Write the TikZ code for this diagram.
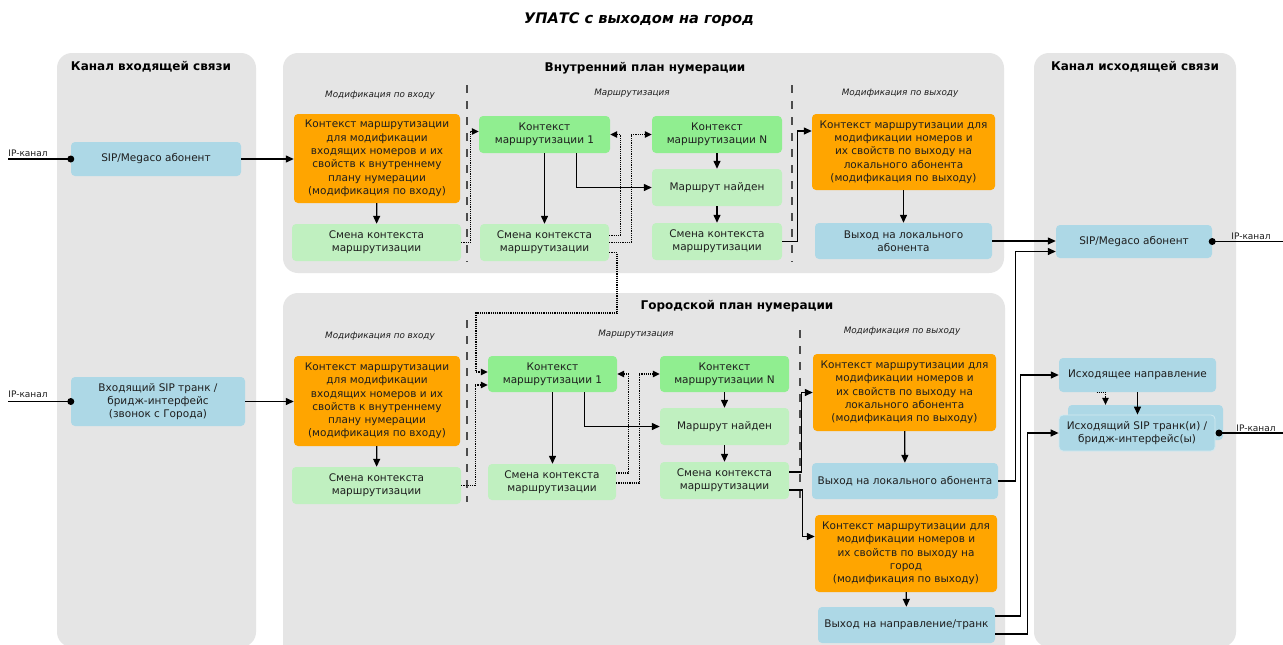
\documentclass[tikz,border=0pt]{standalone}
\usepackage{fontspec}
\setmainfont{DejaVu Sans}
\usetikzlibrary{arrows.meta}
\definecolor{panelgray}{HTML}{E5E5E5}
\definecolor{ctxorange}{HTML}{FFA500}
\definecolor{ctxgreen}{HTML}{90EE90}
\definecolor{stepgreen}{HTML}{C0F0C0}
\definecolor{chanblue}{HTML}{ADD8E6}
\definecolor{inktext}{HTML}{1E1E1E}
\begin{document}
\begin{tikzpicture}[x=1pt,y=-1pt,
		panel/.style={fill=panelgray,rounded corners=15pt},
		ptitle/.style={font=\fontsize{12}{14}\selectfont\bfseries,text=black},
		zone/.style={font=\fontsize{8.8}{10}\selectfont\itshape,text=inktext},
		box/.style={rounded corners=4pt,align=center,inner sep=0pt,text=inktext,
			font=\fontsize{10.5}{13.3}\selectfont},
		orbox/.style={box,fill=ctxorange},
		ctxbox/.style={box,fill=ctxgreen},
		stepbox/.style={box,fill=stepgreen},
		chbox/.style={box,fill=chanblue},
		wire/.style={line width=1.3pt,black},
		arr/.style={wire,-{Triangle[length=8pt,width=7pt]}},
		dotarr/.style={line width=1.2pt,densely dotted,black,-{Triangle[length=7pt,width=6.5pt]}},
		sep/.style={line width=1.2pt,black!70,dash pattern=on 8pt off 8pt},
		iplab/.style={font=\fontsize{9}{10}\selectfont,text=inktext}]
	\useasboundingbox (0,0) rectangle (1283,645);
	\fill[white] (0,0) rectangle (1283,645);

	\fill[panel] (57,53) rectangle (256,647);
	\fill[panel] (283,53) rectangle (1004,273);
	\fill[panel] (283,293) rectangle (1005,660);
	\fill[panel] (1034,53) rectangle (1236,647);

	\node[font=\fontsize{14.6}{16}\selectfont\bfseries\itshape] (title) at (639,20) {УПАТС с выходом на город};
	\node[ptitle] (inTitle) at (151,67) {Канал входящей связи};
	\node[ptitle] (intTitle) at (645,68) {Внутренний план нумерации};
	\node[ptitle] (cityTitle) at (737,306) {Городской план нумерации};
	\node[ptitle] (outTitle) at (1135,67) {Канал исходящей связи};

	\node[zone] (zIA) at (380,95) {Модификация по входу};
	\node[zone] (zIR) at (632,93) {Маршрутизация};
	\node[zone] (zIO) at (900,93) {Модификация по выходу};
	\node[zone] (zCA) at (380,336) {Модификация по входу};
	\node[zone] (zCR) at (636,334) {Маршрутизация};
	\node[zone] (zCO) at (902,331) {Модификация по выходу};

	\draw[sep] (467,85) -- (467,262);
	\draw[sep] (792,85) -- (792,262);
	\draw[sep] (467,320) -- (467,502);
	\draw[sep] (800,330) -- (800,505);

	% incoming channel
	\node[chbox,minimum width=170pt,minimum height=34pt] (sipIn) at (156,159) {SIP/Megaco абонент};
	\node[chbox,minimum width=174pt,minimum height=49pt] (trunkIn) at (158,401.5) {Входящий SIP транк /\\бридж-интерфейс\\(звонок с Города)};

	% internal plan
	\node[orbox,minimum width=166pt,minimum height=89pt] (orIA) at (377,158.5) {Контекст маршрутизации\\для модификации\\входящих номеров и их\\свойств к внутреннему\\плану нумерации\\(модификация по входу)};
	\node[stepbox,minimum width=169pt,minimum height=37pt] (smIA) at (376.5,242.5) {Смена контекста\\маршрутизации};
	\node[ctxbox,minimum width=131pt,minimum height=37pt] (ctxIA) at (544.5,134.5) {Контекст\\маршрутизации 1};
	\node[stepbox,minimum width=129pt,minimum height=37pt] (smIB) at (544.5,242.5) {Смена контекста\\маршрутизации};
	\node[ctxbox,minimum width=130pt,minimum height=37pt] (ctxIN) at (717,134.5) {Контекст\\маршрутизации N};
	\node[stepbox,minimum width=130pt,minimum height=37pt] (foundI) at (717,187.5) {Маршрут найден};
	\node[stepbox,minimum width=130pt,minimum height=37pt] (smIN) at (717,241.5) {Смена контекста\\маршрутизации};
	\node[orbox,minimum width=183pt,minimum height=76pt] (orIO) at (903.5,152) {Контекст маршрутизации для\\модификации номеров и\\их свойств по выходу на\\локального абонента\\(модификация по выходу)};
	\node[chbox,minimum width=177pt,minimum height=36pt] (outIL) at (903.5,241) {Выход на локального\\абонента};

	% city plan
	\node[orbox,minimum width=166pt,minimum height=90pt] (orCA) at (377,401) {Контекст маршрутизации\\для модификации\\входящих номеров и их\\свойств к внутреннему\\плану нумерации\\(модификация по входу)};
	\node[stepbox,minimum width=169pt,minimum height=37pt] (smCA) at (376.5,485.5) {Смена контекста\\маршрутизации};
	\node[ctxbox,minimum width=129pt,minimum height=36pt] (ctxCA) at (552.5,374) {Контекст\\маршрутизации 1};
	\node[stepbox,minimum width=128pt,minimum height=36pt] (smCB) at (552,482) {Смена контекста\\маршрутизации};
	\node[ctxbox,minimum width=129pt,minimum height=36pt] (ctxCN) at (724.5,374) {Контекст\\маршрутизации N};
	\node[stepbox,minimum width=129pt,minimum height=37pt] (foundC) at (724.5,426.5) {Маршрут найден};
	\node[stepbox,minimum width=129pt,minimum height=37pt] (smCN) at (724.5,480.5) {Смена контекста\\маршрутизации};
	\node[orbox,minimum width=183pt,minimum height=77pt] (orCO) at (904.5,392.5) {Контекст маршрутизации для\\модификации номеров и\\их свойств по выходу на\\локального абонента\\(модификация по выходу)};
	\node[chbox,minimum width=186pt,minimum height=36pt] (outCL) at (905,481) {Выход на локального абонента};
	\node[orbox,minimum width=182pt,minimum height=77pt] (orCT) at (906,553.5) {Контекст маршрутизации для\\модификации номеров и\\их свойств по выходу на\\город\\(модификация по выходу)};
	\node[chbox,minimum width=177pt,minimum height=36pt] (outCT) at (906.5,625) {Выход на направление/транк};

	% outgoing channel
	\node[chbox,minimum width=156pt,minimum height=33pt] (sipOut) at (1134,241.5) {SIP/Megaco абонент};
	\node[chbox,minimum width=157pt,minimum height=34pt] (dirOut) at (1137.5,375) {Исходящее направление};
	\node[chbox,minimum width=155pt,minimum height=35pt] (trunkBack) at (1145.5,422.5) {};
	\node[chbox,draw=white!45!chanblue,line width=0.8pt,minimum width=156pt,minimum height=36pt] (trunkOut) at (1137,433) {Исходящий SIP транк(и) /\\бридж-интерфейс(ы)};

	\coordinate (ipA) at (8,159);
	\coordinate (ipB) at (8,401.5);
	\coordinate (ipC) at (1283,241.5);
	\coordinate (ipD) at (1283,433);
	\coordinate (dotD) at (1219,433);
	\node[iplab] (ipAlab) at (28,153) {IP-канал};
	\node[iplab] (ipBlab) at (28,394) {IP-канал};
	\node[iplab] (ipClab) at (1251,236) {IP-канал};
	\node[iplab] (ipDlab) at (1256,428) {IP-канал};

	\draw[wire] (ipA) -- (sipIn.west);
	\fill (sipIn.west) circle (3.5pt);
	\draw[wire] (ipB) -- (trunkIn.west);
	\fill (trunkIn.west) circle (3.5pt);
	\draw[wire] (sipOut.east) -- (ipC);
	\fill (sipOut.east) circle (3.5pt);
	\draw[wire] (dotD) -- (ipD);
	\fill (dotD) circle (3.5pt);

	\draw[arr] (sipIn.east) -- (sipIn.east -| orIA.west);
	\draw[arr] (trunkIn.east) -- (trunkIn.east -| orCA.west);

	\draw[arr] (orIA) -- (smIA);
	\draw[dotarr] (smIA.east) -- ++(9,0) |- ([yshift=3pt]ctxIA.west);
	\draw[arr] (ctxIA) -- (smIB);
	\draw[arr] ([xshift=32pt]ctxIA.south) |- (foundI.west);
	\draw[arr] (ctxIN) -- (foundI);
	\draw[arr] (foundI) -- (smIN);
	\draw[dotarr] ([yshift=7pt]smIB.east) -- ++(11,0) |- (ctxIA.east);
	\draw[dotarr] (smIB.east) -- ++(22,0) |- (ctxIN.west);
	\draw[arr] (smIN.east) -- ++(15,0) |- ([yshift=21pt]orIO.west);
	\draw[arr] (orIO) -- (outIL);
	\draw[arr] (outIL.east) -- (outIL.east -| sipOut.west);

	\coordinate (crossR) at (617,313);
	\coordinate (crossL) at (476,313);
	\draw[dotarr] ([yshift=-10pt]smIB.east) -| (crossR) -- (crossL) |- ([yshift=2pt]ctxCA.west);
	\draw[dotarr] (smCA.east) -- ++(14,0) |- ([yshift=-11pt]ctxCA.west);

	\draw[arr] (orCA) -- (smCA);
	\draw[arr] (ctxCA.south) -- (ctxCA.south |- smCB.north);
	\draw[arr] ([xshift=32pt]ctxCA.south) |- (foundC.west);
	\draw[arr] (ctxCN) -- (foundC);
	\draw[arr] (foundC) -- (smCN);
	\draw[dotarr] ([yshift=9pt]smCB.east) -- ++(12,0) |- (ctxCA.east);
	\draw[dotarr] ([yshift=-1pt]smCB.east) -- ++(23,0) |- (ctxCN.west);
	\draw[arr] ([yshift=8.5pt]smCN.east) -- ++(12,0) |- (orCO.west);
	\draw[arr] ([yshift=-9.5pt]smCN.east) -- ++(13,0) |- ([yshift=17pt]orCT.west);
	\draw[arr] (orCO) -- (outCL);
	\draw[arr] (orCT) -- (outCT);

	\draw[arr] (outCL.east) -- ++(17,0) |- ([yshift=-10pt]sipOut.west);
	\draw[arr] ([yshift=9pt]outCT.east) -- ++(25,0) |- (dirOut.west);
	\draw[arr] ([yshift=-9pt]outCT.east) -- ++(32,0) |- (trunkOut.west);
	\draw[arr] (dirOut.south) -- (dirOut.south |- trunkOut.north);
	\draw[dotarr,line width=0.8pt] ([xshift=-41pt]dirOut.south) -| ([xshift=-40pt]trunkBack.north);
\end{tikzpicture}
\end{document}
